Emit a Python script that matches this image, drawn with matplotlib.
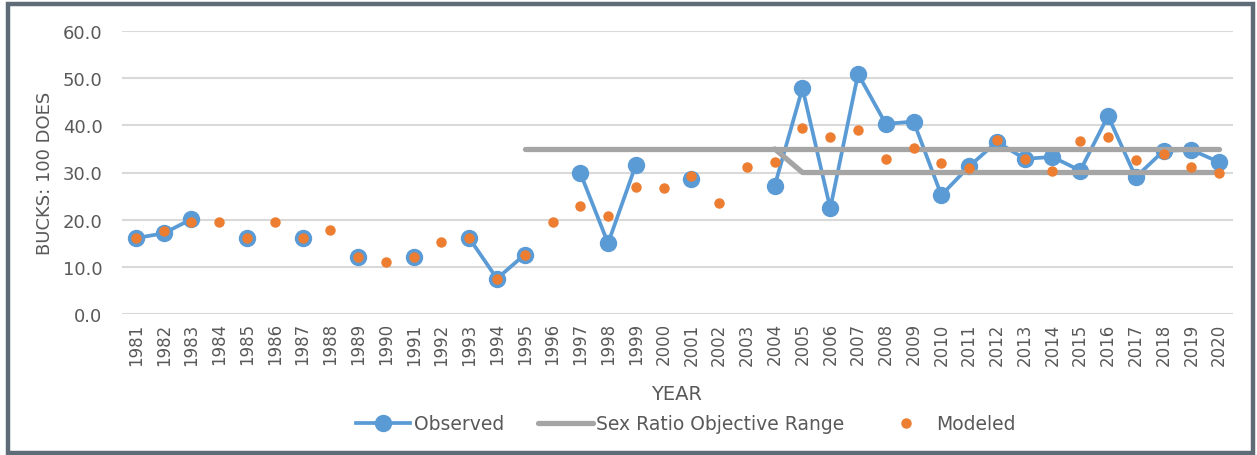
import numpy as np
import matplotlib.pyplot as plt
from matplotlib.patches import Rectangle

# du lieu doc tu hinh
years = list(range(1981, 2021))
nan = np.nan
observed = [16.1, 17.1, 20.1, nan, 16.1, nan, 16.1, nan, 12.1, nan,
            12.1, nan, 16.1, 7.5, 12.6, nan, 29.9, 15.0, 31.6, nan,
            28.6, nan, nan, 27.2, 47.9, 22.4, 50.9, 40.3, 40.8, 25.2,
            31.3, 36.5, 32.9, 33.3, 30.4, 42.0, 29.0, 34.6, 34.8, 32.2]
modeled = [16.1, 17.6, 19.4, 19.5, 16.1, 19.5, 16.1, 17.9, 12.1, 11.1,
           12.1, 15.3, 16.1, 7.5, 12.6, 19.6, 22.8, 20.8, 27.0, 26.7,
           29.2, 23.5, 31.2, 32.2, 39.4, 37.6, 39.1, 32.8, 35.2, 32.0,
           30.9, 36.9, 32.9, 30.4, 36.7, 37.6, 32.7, 33.9, 31.2, 29.9]
range_upper = [nan] * 14 + [35.0] * 26
range_lower = [nan] * 23 + [35.0] + [30.0] * 16

txt = '#595959'
blue = '#5b9bd5'
gray = '#a5a5a5'
orange = '#ed7d31'

fig = plt.figure(figsize=(12.57, 4.56), dpi=100)
ax = fig.add_axes([122 / 1257, 1 - 315 / 456, (1233 - 122) / 1257, (315 - 32) / 456])

ax.plot(years, observed, color=blue, lw=2.7, marker='o', ms=11.5,
        label='Observed', zorder=3)
ax.plot(years, range_upper, color=gray, lw=3.8, solid_capstyle='round',
        label='Sex Ratio Objective Range', zorder=4)
ax.plot(years, range_lower, color=gray, lw=3.8, solid_capstyle='round', zorder=4)
ax.plot(years, modeled, ls='none', marker='o', ms=6.5, color=orange,
        label='Modeled', zorder=5)

ax.set_xlim(1980.5, 2020.5)
ax.set_ylim(0, 60)
ax.set_yticks(range(0, 61, 10))
ax.set_yticklabels([f'{v:.1f}' for v in range(0, 61, 10)])
ax.set_xticks(years)
ax.set_xticklabels([str(y) for y in years], rotation=90)
ax.tick_params(axis='both', length=0, colors=txt)
ax.tick_params(axis='x', labelsize=12, pad=6)
ax.tick_params(axis='y', labelsize=13, pad=14)
ax.grid(axis='y', color='#d9d9d9', lw=1.5, zorder=0)
ax.set_axisbelow(True)
for s in ax.spines.values():
    s.set_visible(False)

ax.set_ylabel('BUCKS: 100 DOES', color=txt, fontsize=13, labelpad=6)
fig.text(677 / 1257, 1 - 395 / 456, 'YEAR', color=txt, fontsize=14,
         ha='center', va='center')

leg = fig.legend(loc='center', bbox_to_anchor=(686 / 1257, 1 - 425 / 456),
                 ncol=3, frameon=False, fontsize=13.5, handlelength=2.9,
                 handletextpad=0.2, columnspacing=1.8)
for t in leg.get_texts():
    t.set_color(txt)

# khung vien ngoai
fig.patches.append(Rectangle((8 / 1257, 2 / 456), 1245 / 1257, 449 / 456,
                             transform=fig.transFigure, fill=False,
                             edgecolor='#5f6b77', lw=3.2))

fig.savefig('out.png', dpi=100)
